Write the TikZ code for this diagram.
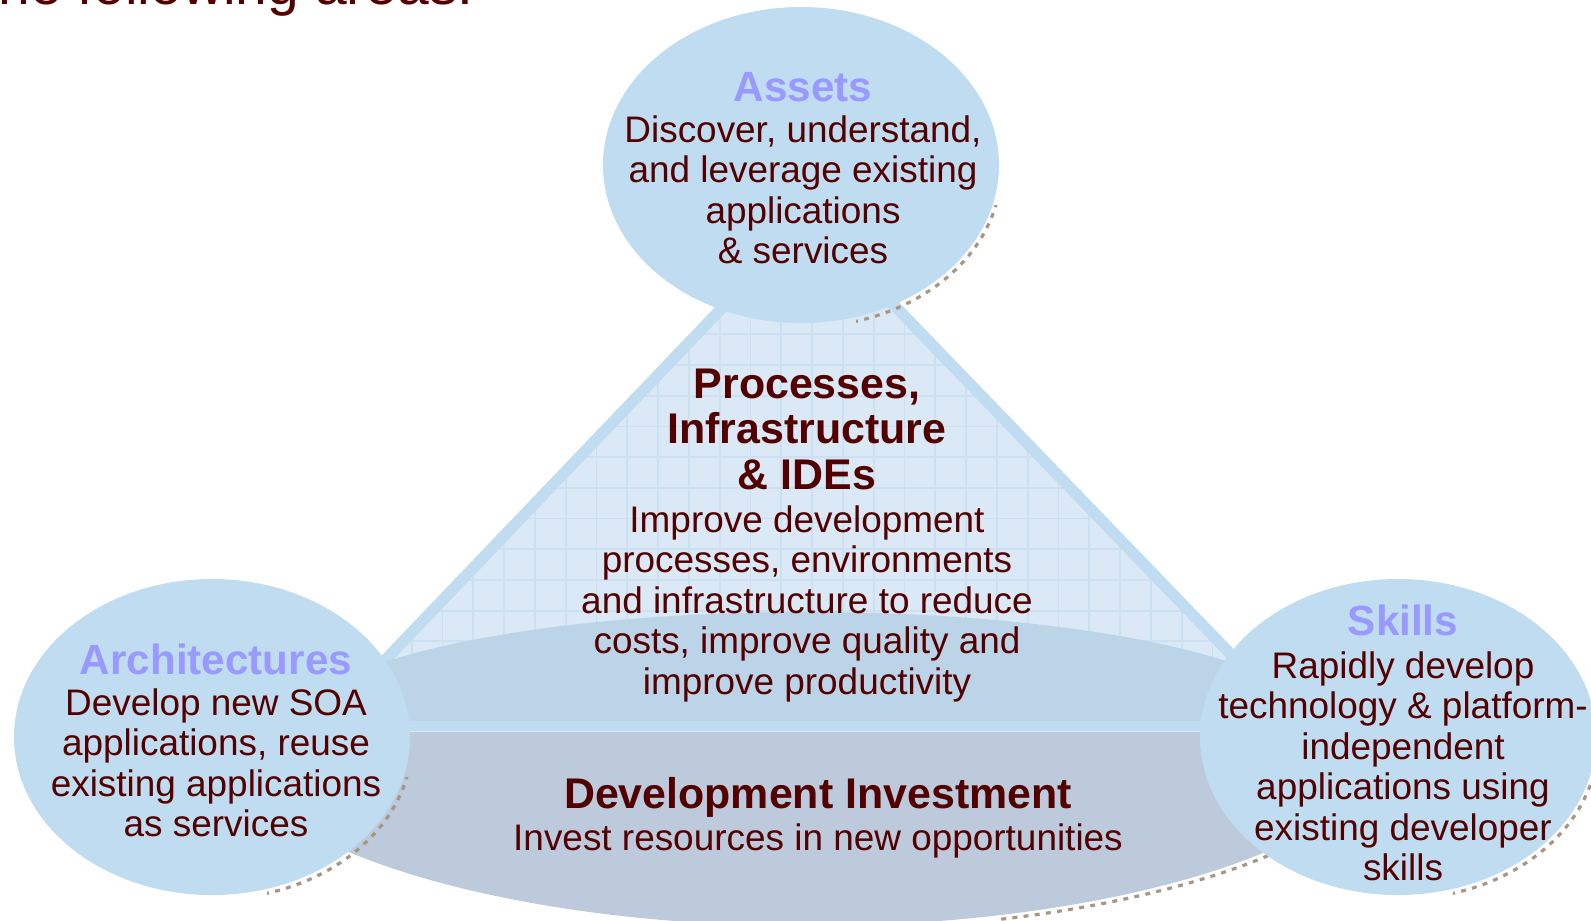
\documentclass[tikz,border=0pt]{standalone}
\usepackage{fontspec}
\setmainfont{Liberation Sans}
\definecolor{ovalblue}{HTML}{BFDCF0}
\definecolor{trifill}{HTML}{DAE9F5}
\definecolor{gridblue}{HTML}{CBE0F1}
\definecolor{discface}{HTML}{BCD4E8}
\definecolor{discside}{HTML}{BDCADB}
\definecolor{textmaroon}{HTML}{520000}
\definecolor{titleblue}{HTML}{9999FF}
\definecolor{shadowbrown}{HTML}{A89584}

\begin{document}
\begin{tikzpicture}[x=0.01cm,y=-0.01cm,
    body/.style={text=textmaroon,align=center,inner sep=0pt,font=\fontsize{10.5}{11.5}\selectfont},
    head/.style={text=titleblue,inner sep=0pt,font=\fontsize{12}{13}\selectfont\bfseries},
    bighead/.style={text=textmaroon,align=center,inner sep=0pt,font=\fontsize{12.2}{13}\selectfont\bfseries},
    oval/.style={fill=ovalblue},
    shadeline/.style={draw=shadowbrown,line width=0.9pt,dash pattern=on 1.4pt off 1.8pt}]
    \useasboundingbox (0,0) rectangle (1591,920);
    \path (801,165) coordinate(assetsC) (212,737) coordinate(archC) (1398,737) coordinate(skillsC)
        (807,726) coordinate(discC) (809,217) coordinate(apex) (322,726) coordinate(baseL) (1300,726) coordinate(baseR);

    % caption cut off at the top
    \node[anchor=base west,inner sep=0pt,text=textmaroon,font=\fontsize{16.2}{18}\selectfont] (caption) at (-18,4) {the following areas:};

    % triangle with grid
    \begin{scope}
        \clip (apex) -- (baseL) -- (baseR) -- cycle;
        \fill[trifill] (300,200) rectangle (1320,740);
        \foreach \k in {-3,...,29} \draw[gridblue,line width=0.5pt] ({411.7+30.8*\k},200) -- ++(0,540);
        \foreach \k in {-5,...,12} \draw[gridblue,line width=0.5pt] (300,{365+30.7*\k}) -- ++(1020,0);
    \end{scope}
    \draw[ovalblue,line width=3.2pt] (apex) -- (baseL) -- (baseR) -- cycle;

    % base disc
    \begin{scope}
        \clip (0,0) rectangle (1591,720);
        \fill[discface] (discC) ellipse [x radius=510,y radius=114];
    \end{scope}
    \begin{scope}
        \clip (1000,732) rectangle (1591,930);
        \draw[shadeline] ([shift={(2,4)}]discC) ellipse [x radius=590,y radius=200];
    \end{scope}
    \begin{scope}
        \clip (0,732) rectangle (1591,930);
        \fill[discside] (discC) ellipse [x radius=590,y radius=200];
    \end{scope}

    % the three ovals, shadow only at the lower right
    \foreach \c in {assetsC,archC,skillsC} {
        \begin{scope}
            \clip ([shift={(55,40)}]\c) rectangle ++(300,300);
            \draw[shadeline] ([shift={(2,4)}]\c) ellipse [x radius=198,y radius=158];
        \end{scope}
        \fill[oval] (\c) ellipse [x radius=198,y radius=158];
    }

    % texts
    \node[head] (assets) at (803,87) {Assets};
    \node[body,anchor=north] (assetsText) at (803,115) {Discover, understand,\\and leverage existing\\applications\\\& services};
    \node[head] (arch) at (216,659) {Architectures};
    \node[body,anchor=north] (archText) at (216,688) {Develop new SOA\\applications, reuse\\existing applications\\as services};
    \node[head] (skills) at (1403,620) {Skills};
    \node[body,anchor=north] (skillsText) at (1403,651) {Rapidly develop\\technology \& platform-\\independent\\applications using\\existing developer\\skills};
    \node[bighead,anchor=north] (proc) at (807,368) {Processes,\\Infrastructure\\\& IDEs};
    \node[body,anchor=north] (procText) at (807,505) {Improve development\\processes, environments\\and infrastructure to reduce\\costs, improve quality and\\improve productivity};
    \node[bighead,anchor=north] (dev) at (818,777) {Development Investment};
    \node[body,anchor=north] (devText) at (818,823) {Invest resources in new opportunities};
\end{tikzpicture}
\end{document}
